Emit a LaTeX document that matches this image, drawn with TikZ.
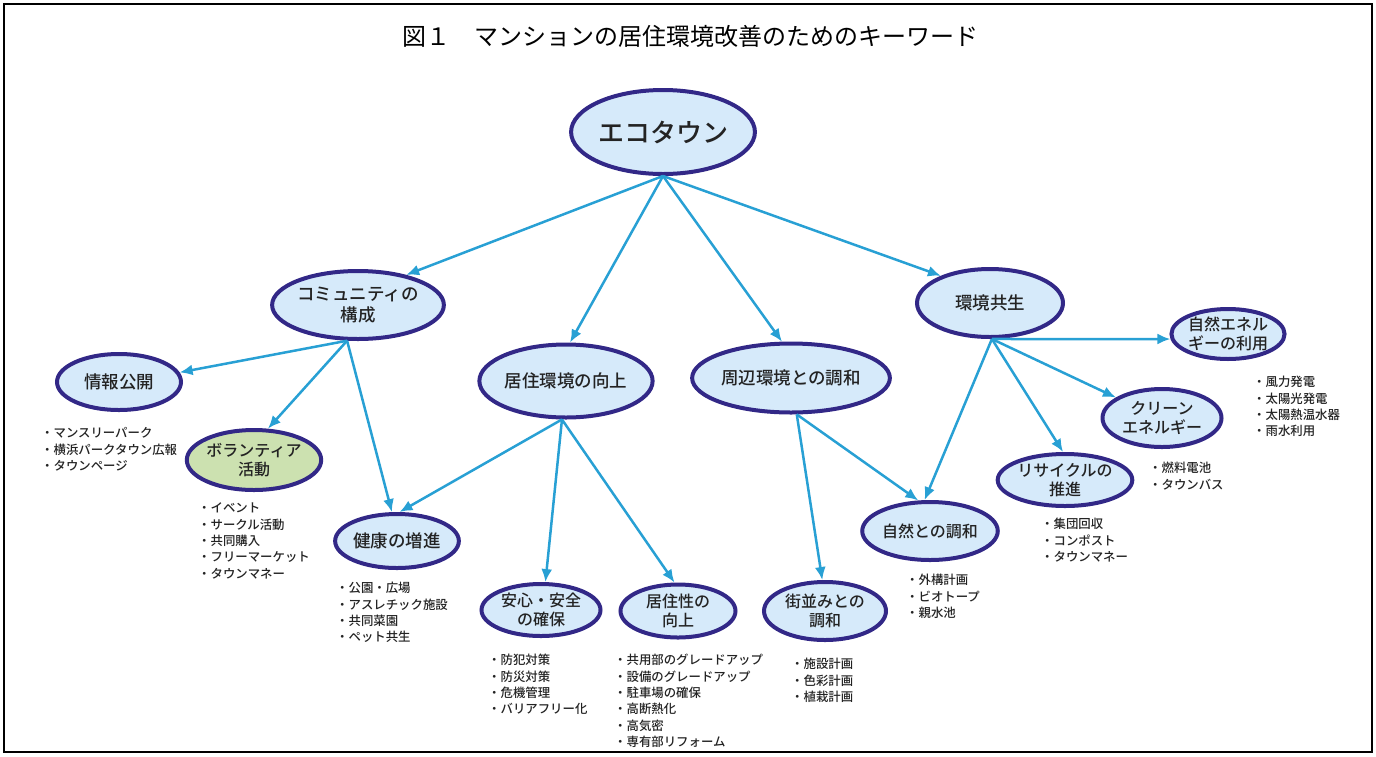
\documentclass[tikz,border=0pt]{standalone}
\usepackage{fontspec}
\setmainfont{Noto Sans CJK JP}[BoldFont={Noto Sans CJK JP Medium}]
\usetikzlibrary{shapes.geometric,arrows.meta}
\definecolor{arr}{RGB}{40,160,212}
\definecolor{bord}{RGB}{50,40,135}
\definecolor{efill}{RGB}{214,234,250}
\definecolor{gfill}{RGB}{204,225,176}
\definecolor{tgray}{RGB}{35,35,35}
\newcommand{\mybullets}[4]{%
  \foreach \t [count=\i] in {#4} {\node[bul] (#1-\i) at (#2, {#3+(\i-1)*16.4}) {・\t};}%
}
\begin{document}
\begin{tikzpicture}[x=1pt,y=-1pt,
  ell/.style={ellipse,draw=bord,line width=4pt,fill=efill,inner sep=0pt,align=center,text=tgray},
  esz/.style 2 args={minimum width={#1-4pt},minimum height={#2-4pt}},
  fa/.style={font=\fontsize{26}{30}\selectfont\bfseries},
  fb/.style={font=\fontsize{17.5}{21}\selectfont\bfseries},
  fc/.style={font=\fontsize{16}{18.5}\selectfont\bfseries},
  bul/.style={anchor=west,inner sep=0pt,font=\fontsize{12.4}{14}\selectfont\bfseries,text=tgray},
  conn/.style={draw=arr,line width=2.5pt,-{Latex[length=13pt,width=11pt]}}]
\useasboundingbox (0,0) rectangle (1376,756);
\draw[line width=1.5pt] (4,4) rectangle (1372,752);
\node[font=\fontsize{24}{28}\selectfont,text=black] (title) at (690,36) {図１　マンションの居住環境改善のためのキーワード};
% nodes
\node[ell,esz={150pt}{88pt},fa] (eco) at (663,132) {エコタウン};
\node[ell,esz={170pt}{72pt},fb] (comm) at (358,305) {コミュニティの\\構成};
\node[ell,esz={158pt}{77pt},fb] (live) at (566,381) {居住環境の向上};
\node[ell,esz={157pt}{73pt},fb] (shuhen) at (791,378) {周辺環境との調和};
\node[ell,esz={150pt}{72pt},fb] (kankyo) at (990,303) {環境共生};
\node[ell,esz={128pt}{60pt},fb] (info) at (119,382) {情報公開};
\node[ell,esz={108pt}{64pt},fc,fill=gfill] (vol) at (254,460) {ボランティア\\活動};
\node[ell,esz={115pt}{58pt},fb] (kenko) at (397,541) {健康の増進};
\node[ell,esz={123pt}{56pt},fc] (anshin) at (541,610) {安心・安全\\の確保};
\node[ell,esz={119pt}{57pt},fc] (kyoju) at (678,611) {居住性の\\向上};
\node[ell,esz={126pt}{62pt},fc] (machi) at (825,611) {街並みとの\\調和};
\node[ell,esz={124pt}{62pt},fc] (shizen) at (930,531) {自然との調和};
\node[ell,esz={116pt}{56pt},fc] (recycle) at (1065,480) {リサイクルの\\推進};
\node[ell,esz={123pt}{62pt},fc] (clean) at (1162,418) {クリーン\\エネルギー};
\node[ell,esz={113pt}{54pt},fc] (ene) at (1228,334) {自然エネル\\ギーの利用};
% connectors
\draw[conn] (eco.south) -- (comm.32);
\draw[conn] (eco.south) -- (live.84);
\draw[conn] (eco.south) -- (shuhen.104);
\draw[conn] (eco.south) -- (kankyo.151);
\draw[conn] (comm.-107) -- (info.9);
\draw[conn] (comm.-107) -- (vol.66);
\draw[conn] (comm.-107) -- (kenko.100);
\draw[conn] (live.-96) -- (kenko.85);
\draw[conn] (live.-96) -- (anshin.81);
\draw[conn] (live.-96) -- (kyoju.97);
\draw[conn] (shuhen.-81) -- (machi.95);
\draw[conn] (shuhen.-81) -- (shizen.111);
\draw[conn] (kankyo.-87) -- (shizen.100);
\draw[conn] (kankyo.-87) -- (ene.185);
\draw[conn] (kankyo.-87) -- (clean.156);
\draw[conn] (kankyo.-87) -- (recycle.94);
% bullet lists
\mybullets{binfo}{41}{433}{マンスリーパーク,横浜パークタウン広報,タウンページ}
\mybullets{bvol}{198}{508}{イベント,サークル活動,共同購入,フリーマーケット,タウンマネー}
\mybullets{bkenko}{336}{588}{公園・広場,アスレチック施設,共同菜園,ペット共生}
\mybullets{banshin}{488}{660}{防犯対策,防災対策,危機管理,バリアフリー化}
\mybullets{bkyoju}{614}{660}{共用部のグレードアップ,設備のグレードアップ,駐車場の確保,高断熱化,高気密,専有部リフォーム}
\mybullets{bmachi}{791}{664}{施設計画,色彩計画,植栽計画}
\mybullets{bshizen}{906}{580}{外構計画,ビオトープ,親水池}
\mybullets{brecycle}{1041}{524}{集団回収,コンポスト,タウンマネー}
\mybullets{bclean}{1149}{468}{燃料電池,タウンバス}
\mybullets{bene}{1253}{382}{風力発電,太陽光発電,太陽熱温水器,雨水利用}
\end{tikzpicture}
\end{document}
